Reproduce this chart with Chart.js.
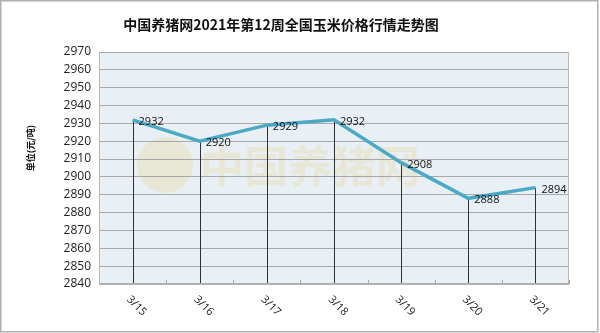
<!DOCTYPE html>
<html>
<head>
<meta charset="utf-8">
<script src="https://cdn.jsdelivr.net/npm/chart.js@4/dist/chart.umd.min.js"></script>
<style>
html,body{margin:0;padding:0;background:#fff;}
#wrap{width:600px;height:333px;position:relative;}
</style>
</head>
<body>
<div id="wrap"><canvas id="c" width="600" height="333"></canvas></div>
<script>
const titleText = '中国养猪网2021年第12周全国玉米价格行情走势图';
const yAxisTitle = '单位(元/吨)';
const categories = ['3/15','3/16','3/17','3/18','3/19','3/20','3/21'];
const prices = [2932, 2920, 2929, 2932, 2908, 2888, 2894];
const yMin = 2840, yMax = 2970, yStep = 10;

const decor = {
  id: 'decor',
  beforeDraw(chart) {
    const ctx = chart.ctx, a = chart.chartArea;
    ctx.save();
    ctx.fillStyle = '#ffffff';
    ctx.fillRect(0, 0, chart.width, chart.height);
    ctx.fillStyle = '#e9f0f5';
    ctx.fillRect(a.left, a.top, a.right - a.left, a.bottom - a.top);
    // watermark
    ctx.globalAlpha = 0.3;
    ctx.fillStyle = '#e8d58a';
    ctx.beginPath();
    ctx.arc(165, 165, 28, 0, Math.PI * 2);
    ctx.fill();
    ctx.font = 'bold 44px "Noto Sans CJK SC"';
    ctx.textBaseline = 'middle';
    ctx.textAlign = 'left';
    ctx.fillText('中国养猪网', 200, 166);
    ctx.restore();
  },
  beforeDatasetsDraw(chart) {
    const ctx = chart.ctx, a = chart.chartArea;
    const xs = chart.scales.x;
    const meta = chart.getDatasetMeta(0);
    ctx.save();
    ctx.strokeStyle = '#b8b8b8';
    ctx.lineWidth = 1;
    ctx.beginPath();
    ctx.moveTo(a.right - 0.5, a.top); ctx.lineTo(a.right - 0.5, a.bottom);
    ctx.stroke();
    // drop lines
    ctx.strokeStyle = '#303030';
    ctx.lineWidth = 1;
    meta.data.forEach(p => {
      const x = Math.round(p.x) + 0.5;
      ctx.beginPath();
      ctx.moveTo(x, p.y); ctx.lineTo(x, a.bottom);
      ctx.stroke();
    });
    // small inward ticks at category boundaries
    ctx.strokeStyle = '#a0a0a0';
    for (let i = 0; i < categories.length; i++) {
      const x = Math.round(xs.getPixelForValue(i + 0.5)) + 0.5;
      ctx.beginPath();
      ctx.moveTo(x, a.bottom); ctx.lineTo(x, a.bottom - 4);
      ctx.stroke();
    }
    // bottom axis line
    ctx.strokeStyle = '#b0b0b0';
    ctx.lineWidth = 2;
    ctx.beginPath();
    ctx.moveTo(a.left, a.bottom); ctx.lineTo(a.right, a.bottom);
    ctx.stroke();
    ctx.restore();
  },
  afterDatasetsDraw(chart) {
    const ctx = chart.ctx;
    const meta = chart.getDatasetMeta(0);
    const xs = chart.scales.x;
    ctx.save();
    ctx.fillStyle = '#111';
    ctx.font = '11px "Open Sans"';
    ctx.textAlign = 'left';
    ctx.textBaseline = 'middle';
    meta.data.forEach((p, i) => {
      ctx.fillText(String(prices[i]), p.x + 6, p.y + 2);
    });
    // rotated x labels
    ctx.font = '11px "Open Sans"';
    ctx.fillStyle = '#222';
    ctx.textAlign = 'center';
    categories.forEach((c, i) => {
      const x = xs.getPixelForValue(i);
      ctx.save();
      ctx.translate(x + 4, 306);
      ctx.rotate(Math.PI / 4);
      ctx.fillText(c, 0, 0);
      ctx.restore();
    });
    // title
    ctx.fillStyle = '#111';
    ctx.font = 'bold 14px "Noto Sans CJK SC"';
    ctx.textAlign = 'center';
    ctx.fillText(titleText, 281, 25);
    // y axis title
    ctx.save();
    ctx.translate(31, 148);
    ctx.rotate(-Math.PI / 2);
    ctx.font = 'bold 9px "Noto Sans CJK SC"';
    ctx.fillStyle = '#111';
    ctx.fillText(yAxisTitle, 0, 0);
    ctx.restore();
    // outer border
    ctx.strokeStyle = '#b0b0b0';
    ctx.lineWidth = 1.5;
    ctx.strokeRect(0.75, 0.75, 597, 331);
    ctx.restore();
  }
};

new Chart(document.getElementById('c'), {
  type: 'line',
  data: {
    labels: categories,
    datasets: [{
      data: prices,
      borderColor: '#4aaac6',
      borderWidth: 3.5,
      pointRadius: 0,
      tension: 0,
      fill: false
    }]
  },
  options: {
    responsive: false,
    animation: false,
    devicePixelRatio: 1,
    layout: { padding: { left: 0, right: 31, top: 52, bottom: 49 } },
    plugins: { legend: { display: false }, tooltip: { enabled: false }, title: { display: false } },
    scales: {
      x: {
        type: 'category',
        offset: true,
        grid: { display: false, drawTicks: false },
        border: { display: false },
        ticks: { display: false },
        afterFit(s) { s.height = 0; }
      },
      y: {
        min: yMin, max: yMax,
        ticks: { stepSize: yStep, padding: 8, color: '#222', font: { family: 'Open Sans', size: 12 },
          callback: v => String(v) },
        grid: { color: '#a8a8a8', lineWidth: 1, drawTicks: false },
        border: { display: true, color: '#b8b8b8', width: 1 },
        afterFit(s) { s.width = 99; }
      }
    }
  },
  plugins: [decor]
});
</script>
</body>
</html>
